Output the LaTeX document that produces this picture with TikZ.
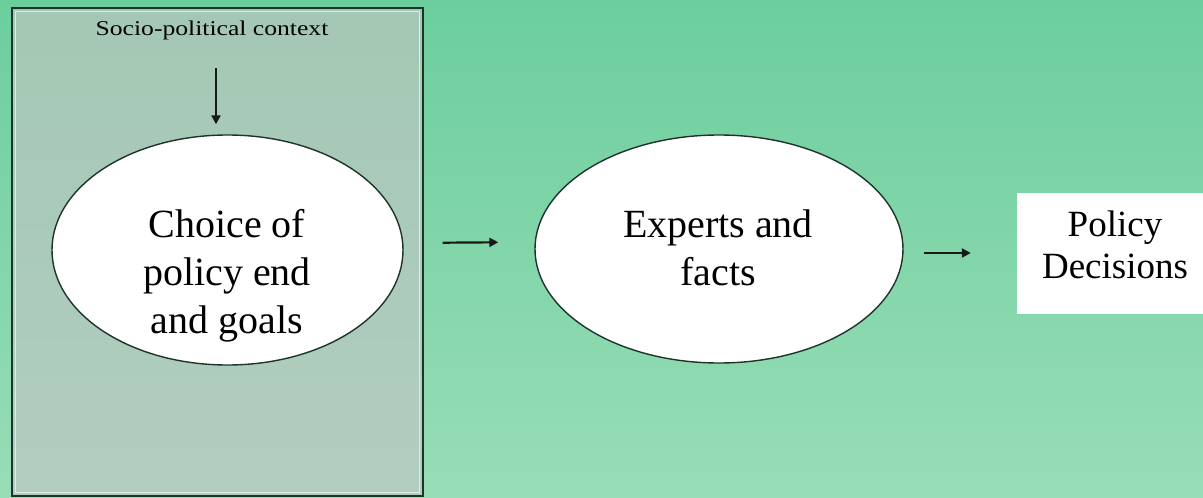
\documentclass[tikz,border=0pt]{standalone}
\usepackage{fontspec}
\setmainfont{Liberation Serif}
\usetikzlibrary{arrows.meta,shapes.geometric}
\definecolor{bgtop}{RGB}{108,206,157}
\definecolor{bgbot}{RGB}{152,221,182}
\definecolor{boxtop}{RGB}{164,200,181}
\definecolor{boxbot}{RGB}{178,205,191}
\definecolor{edge}{RGB}{30,52,42}
\tikzset{
  ell/.style={ellipse, draw=edge, line width=1.4pt, fill=white, inner sep=0pt},
  bigtxt/.style={inner sep=0pt, align=center, font=\fontsize{40}{48}\selectfont},
  pdtxt/.style={inner sep=0pt, align=center, font=\fontsize{37}{42}\selectfont},
  ctxtxt/.style={inner sep=0pt, font=\fontsize{21}{24}\selectfont},
  arr/.style={draw=black!90, line width=2.2pt, -{Triangle[length=9pt,width=9pt]}},
  pdbox/.style={rectangle, fill=white, inner sep=0pt, minimum width=188pt, minimum height=121pt}
}
\begin{document}
\begin{tikzpicture}[x=1pt,y=-1pt]
\useasboundingbox (0,0) rectangle (1203,498);
\shade[top color=bgtop, bottom color=bgbot] (0,0) rectangle (1203,498);
% context box
\shade[top color=boxtop, bottom color=boxbot] (12,8) rectangle (423,496);
\draw[white!60!boxbot, line width=1pt] (15.5,11.5) rectangle (419.5,492.5);
\draw[edge, line width=2pt] (12,8) rectangle (423,496);
% nodes
\node[ctxtxt] (ctx) at (212,30) {\scalebox{1.22}[1]{Socio-political context}};
\node[ell, minimum width=351pt, minimum height=230pt] (e1) at (227.5,250) {};
\node[bigtxt] (t1) at (227,276) {Choice of\\policy end\\and goals};
\node[ell, minimum width=368pt, minimum height=228pt] (e2) at (719,249) {};
\node[bigtxt] (t2) at (718,248) {Experts and\\facts};
\node[pdbox] (pd) at (1111,253) {};
\node[pdtxt] (t3) at (1115,245) {Policy\\Decisions};
% connectors
\draw[arr, shorten <=28pt, shorten >=10pt] ([xshift=4pt]ctx.south) -- ([xshift=4pt]ctx.south |- e1.north);
\draw[arr, shorten <=39pt, shorten >=36pt] ([yshift=7pt]e1.east) -- ([yshift=7pt]e2.west);
\draw[arr, shorten <=20pt, shorten >=46pt] ([yshift=-4pt]e2.east) -- (pd.west);
\end{tikzpicture}
\end{document}
